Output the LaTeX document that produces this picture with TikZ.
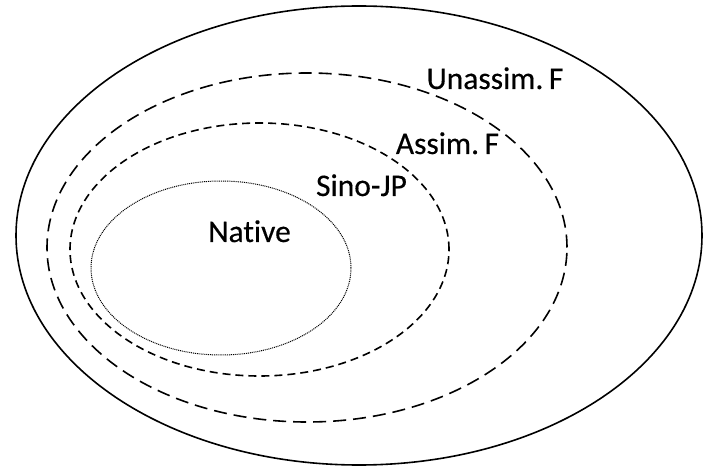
\documentclass[tikz,border=0pt]{standalone}
\usepackage{fontspec}
\setmainfont[Ligatures=NoCommon, FakeBold=0.35]{Carlito}
\begin{document}
\begin{tikzpicture}[x=1pt,y=-1pt,
  setlabel/.style={font=\fontsize{31.5}{36}\selectfont, anchor=base, inner sep=0pt},
  solidring/.style={line width=1.6pt},
  longdash/.style={line width=1.6pt, dash pattern=on 13pt off 7pt},
  shortdash/.style={line width=1.6pt, dash pattern=on 8pt off 5pt},
  dotring/.style={line width=1pt, dash pattern=on 1pt off 0.9pt}]
  \useasboundingbox (0,0) rectangle (705,468);
  % nested vocabulary strata
  \draw[solidring] (359,235.5) ellipse [x radius=343pt, y radius=229.5pt];
  \draw[longdash]  (307,247.5) ellipse [x radius=260pt, y radius=174.5pt];
  \draw[shortdash] (259.5,249.5) ellipse [x radius=189.5pt, y radius=126.5pt];
  \draw[dotring]   (221,268) ellipse [x radius=130pt, y radius=87pt];
  % labels
  \node[setlabel] (unassim) at (495,89) {Unassim.\kern-0.05em\ F};
  \node[setlabel] (assim) at (447.5,154) {Assim.\kern-0.05em\ F};
  \node[setlabel] (sino) at (361.5,196) {Sino-JP};
  \node[setlabel] (native) at (249.5,242) {Native};
\end{tikzpicture}
\end{document}
